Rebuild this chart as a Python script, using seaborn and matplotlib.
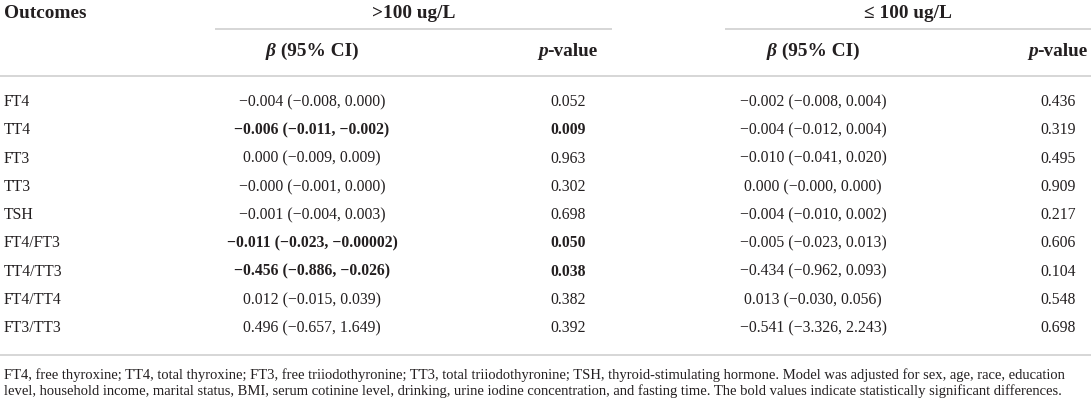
import matplotlib
matplotlib.use("Agg")
import matplotlib.pyplot as plt
import seaborn as sns
import pandas as pd

# ---------------- data ----------------
outcomes = ["FT4", "TT4", "FT3", "TT3", "TSH", "FT4/FT3", "TT4/TT3", "FT4/TT4", "FT3/TT3"]
high_beta = ["\u22120.004 (\u22120.008, 0.000)", "\u22120.006 (\u22120.011, \u22120.002)",
             "0.000 (\u22120.009, 0.009)", "\u22120.000 (\u22120.001, 0.000)",
             "\u22120.001 (\u22120.004, 0.003)", "\u22120.011 (\u22120.023, \u22120.00002)",
             "\u22120.456 (\u22120.886, \u22120.026)", "0.012 (\u22120.015, 0.039)",
             "0.496 (\u22120.657, 1.649)"]
high_p = ["0.052", "0.009", "0.963", "0.302", "0.698", "0.050", "0.038", "0.382", "0.392"]
high_bold = [False, True, False, False, False, True, True, False, False]
low_beta = ["\u22120.002 (\u22120.008, 0.004)", "\u22120.004 (\u22120.012, 0.004)",
            "\u22120.010 (\u22120.041, 0.020)", "0.000 (\u22120.000, 0.000)",
            "\u22120.004 (\u22120.010, 0.002)", "\u22120.005 (\u22120.023, 0.013)",
            "\u22120.434 (\u22120.962, 0.093)", "0.013 (\u22120.030, 0.056)",
            "\u22120.541 (\u22123.326, 2.243)"]
low_p = ["0.436", "0.319", "0.495", "0.909", "0.217", "0.606", "0.104", "0.548", "0.698"]
low_bold = [False] * 9
group_labels = [">100 ug/L", "\u2264 100 ug/L"]
first_col_label = "Outcomes"
footnote_lines = [
    "FT4, free thyroxine; TT4, total thyroxine; FT3, free triiodothyronine; TT3, total triiodothyronine; "
    "TSH, thyroid-stimulating hormone. Model was adjusted for sex, age, race, education",
    "level, household income, marital status, BMI, serum cotinine level, drinking, urine iodine concentration, "
    "and fasting time. The bold values indicate statistically significant differences.",
]

df = pd.DataFrame({"Outcome": outcomes, "high_beta": high_beta, "high_p": high_p,
                   "high_bold": high_bold, "low_beta": low_beta, "low_p": low_p,
                   "low_bold": low_bold})

# ---------------- style ----------------
sns.set_theme(style="white")
plt.rcParams["font.family"] = ["Liberation Serif", "DejaVu Serif"]
TXT = "#231f20"
LINE = "#cfcfcf"
W, H = 1091, 406

fig = plt.figure(figsize=(W / 100, H / 100), dpi=100)
ax = fig.add_axes([0, 0, 1, 1])
ax.set_xlim(0, W)
ax.set_ylim(H, 0)
ax.axis("off")
renderer = fig.canvas.get_renderer()

BODY = 11.3
HEAD = 13.9

# column centres
x_label = 4
cols = {"high_beta": 312, "high_p": 568, "low_beta": 813, "low_p": 1058}
groups = [(215, 612), (725, W)]


def width_of(s, **kw):
    t = ax.text(0, 0, s, **kw)
    w = t.get_window_extent(renderer).width
    t.remove()
    return w


def segments(xc, y, segs, size):
    widths = [width_of(s, fontsize=size, **kw) for s, kw in segs]
    total = sum(widths)
    x = xc - total / 2
    for (s, kw), w in zip(segs, widths):
        ax.text(x, y, s, fontsize=size, ha="left", va="baseline", color=TXT, **kw)
        x += w


# rules
for x0, x1 in groups:
    ax.hlines(29.5, x0, x1, color=LINE, lw=1.2)
ax.hlines(77, 0, W, color=LINE, lw=1.2)
ax.hlines(356, 0, W, color=LINE, lw=1.2)

# header
ax.text(x_label, 18, first_col_label, fontsize=HEAD, fontweight="bold", ha="left",
        va="baseline", color=TXT)
for (x0, x1), g in zip(groups, group_labels):
    ax.text((x0 + x1) / 2, 18, g, fontsize=HEAD, fontweight="bold", ha="center",
            va="baseline", color=TXT)
for key in ["high_beta", "low_beta"]:
    segments(cols[key], 56, [("\u03b2", dict(style="italic", fontweight="bold")),
                             (" (95% CI)", dict(fontweight="bold"))], HEAD)
for key in ["high_p", "low_p"]:
    segments(cols[key], 56, [("p", dict(style="italic", fontweight="bold")),
                             ("-value", dict(fontweight="bold"))], HEAD)

# body rows
y0, dy = 106, 28.3
for i, row in df.iterrows():
    y = y0 + i * dy
    ax.text(x_label, y, row["Outcome"], fontsize=BODY, ha="left", va="baseline", color=TXT)
    for grp in ["high", "low"]:
        wt = "bold" if row[f"{grp}_bold"] else "normal"
        ax.text(cols[f"{grp}_beta"], y, row[f"{grp}_beta"], fontsize=BODY, fontweight=wt,
                ha="center", va="baseline", color=TXT)
        ax.text(cols[f"{grp}_p"], y, row[f"{grp}_p"], fontsize=BODY, fontweight=wt,
                ha="center", va="baseline", color=TXT)

# footnote, sized so the first line spans the table width
target = 1068
w0 = width_of(footnote_lines[0], fontsize=10)
FOOT = 10 * target / w0
for k, line in enumerate(footnote_lines):
    ax.text(x_label, 379.5 + k * 15.7, line, fontsize=FOOT, ha="left", va="baseline", color=TXT)

fig.savefig("out.png", dpi=100, facecolor="white")
